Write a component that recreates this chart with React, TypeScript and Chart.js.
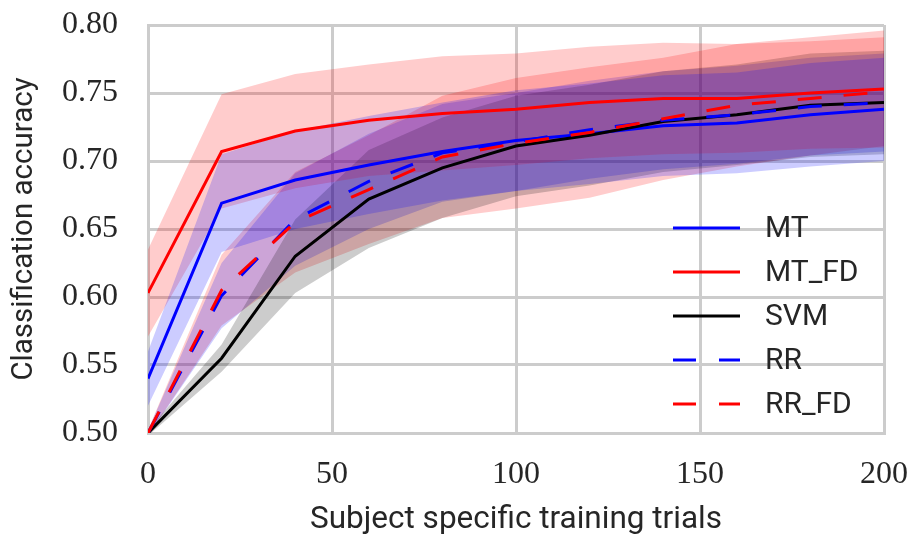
import React, { useEffect, useRef } from "react";
import { Chart, registerables } from "chart.js";

Chart.register(...registerables);

// ---- Data ----
const TRIALS = [0, 20, 40, 60, 80, 100, 120, 140, 160, 180, 200];

const MT_MEAN = [0.540, 0.669, 0.686, 0.697, 0.707, 0.715, 0.720, 0.726, 0.728, 0.734, 0.738];
const MT_STD = [0.020, 0.036, 0.036, 0.036, 0.036, 0.037, 0.037, 0.037, 0.037, 0.038, 0.038];

const MT_FD_MEAN = [0.603, 0.707, 0.722, 0.730, 0.735, 0.738, 0.743, 0.746, 0.746, 0.750, 0.753];
const MT_FD_STD = [0.032, 0.042, 0.042, 0.041, 0.042, 0.041, 0.041, 0.041, 0.040, 0.041, 0.043];

const SVM_MEAN = [0.500, 0.555, 0.630, 0.672, 0.695, 0.711, 0.719, 0.729, 0.734, 0.741, 0.743];
const SVM_STD = [0.002, 0.010, 0.027, 0.036, 0.037, 0.037, 0.037, 0.037, 0.037, 0.038, 0.038];

const RR_MEAN = [0.500, 0.601, 0.657, 0.685, 0.706, 0.714, 0.723, 0.730, 0.734, 0.740, 0.743];
const RR_STD = [0.002, 0.024, 0.034, 0.035, 0.036, 0.036, 0.036, 0.036, 0.036, 0.036, 0.036];

const RR_FD_MEAN = [0.500, 0.605, 0.655, 0.679, 0.703, 0.713, 0.721, 0.731, 0.741, 0.746, 0.751];
const RR_FD_STD = [0.002, 0.026, 0.037, 0.040, 0.045, 0.048, 0.048, 0.045, 0.045, 0.042, 0.040];

const LABELS = ["MT", "MT_FD", "SVM", "RR", "RR_FD"];
const X_TICKS = [0, 50, 100, 150, 200];
const Y_TICKS = [0.5, 0.55, 0.6, 0.65, 0.7, 0.75, 0.8];
const X_TITLE = "Subject specific training trials";
const Y_TITLE = "Classification accuracy";

// ---- Styles ----
const SERIES = [
  { label: LABELS[0], mean: MT_MEAN, std: MT_STD, color: "#0000ff", band: "rgba(0,0,255,0.2)", dash: false },
  { label: LABELS[1], mean: MT_FD_MEAN, std: MT_FD_STD, color: "#ff0000", band: "rgba(255,0,0,0.2)", dash: false },
  { label: LABELS[2], mean: SVM_MEAN, std: SVM_STD, color: "#000000", band: "rgba(0,0,0,0.2)", dash: false },
  { label: LABELS[3], mean: RR_MEAN, std: RR_STD, color: "#0000ff", band: "rgba(0,0,255,0.2)", dash: true },
  { label: LABELS[4], mean: RR_FD_MEAN, std: RR_FD_STD, color: "#ff0000", band: "rgba(255,0,0,0.2)", dash: true },
];

const GRID = "#cccccc";
const TEXT = "#262626";
const SERIF = "'Liberation Serif', 'DejaVu Serif', serif";
const SANS = "Roboto, 'DejaVu Sans', sans-serif";

const legendPlugin = {
  id: "customLegend",
  afterDatasetsDraw(chart: any) {
    const { ctx, chartArea } = chart;
    ctx.save();
    const n = SERIES.length;
    SERIES.forEach((s, i) => {
      const y = chartArea.bottom - 29 - 44 * (n - 1 - i);
      const x0 = chartArea.right - 211;
      ctx.strokeStyle = s.color;
      ctx.lineWidth = 3;
      ctx.lineCap = "butt";
      ctx.setLineDash(s.dash ? [23, 23] : []);
      ctx.beginPath();
      ctx.moveTo(x0, y);
      ctx.lineTo(x0 + 67, y);
      ctx.stroke();
      ctx.setLineDash([]);
      ctx.fillStyle = TEXT;
      ctx.font = `30px ${SANS}`;
      ctx.textBaseline = "middle";
      ctx.textAlign = "left";
      ctx.fillText(s.label, chartArea.right - 119, y + 1);
    });
    ctx.restore();
  },
};

export default function App() {
  const canvasRef = useRef<HTMLCanvasElement | null>(null);

  useEffect(() => {
    const canvas = canvasRef.current;
    if (!canvas) return;

    const datasets: any[] = [];
    SERIES.forEach((s, i) => {
      datasets.push({
        label: s.label + " upper",
        data: TRIALS.map((x, j) => ({ x, y: s.mean[j] + s.std[j] })),
        borderWidth: 0,
        borderColor: "rgba(0,0,0,0)",
        pointRadius: 0,
        fill: false,
        tension: 0,
        order: 100 + i * 2,
      });
      datasets.push({
        label: s.label + " lower",
        data: TRIALS.map((x, j) => ({ x, y: s.mean[j] - s.std[j] })),
        borderWidth: 0,
        borderColor: "rgba(0,0,0,0)",
        pointRadius: 0,
        fill: "-1",
        backgroundColor: s.band,
        tension: 0,
        order: 100 + i * 2,
      });
    });
    SERIES.forEach((s, i) => {
      datasets.push({
        label: s.label,
        data: TRIALS.map((x, j) => ({ x, y: s.mean[j] })),
        borderColor: s.color,
        borderWidth: 3,
        borderDash: s.dash ? [24, 22] : [],
        pointRadius: 0,
        fill: false,
        tension: 0,
        order: SERIES.length - i,
      });
    });

    const chart = new Chart(canvas, {
      type: "line",
      data: { datasets },
      plugins: [legendPlugin],
      options: {
        animation: false,
        responsive: true,
        maintainAspectRatio: false,
        layout: { padding: { top: 25, right: 28, left: 0, bottom: 0 } },
        plugins: {
          legend: { display: false },
          tooltip: { enabled: false },
          filler: { drawTime: "beforeDatasetsDraw" },
        },
        scales: {
          x: {
            type: "linear",
            min: 0,
            max: 200,
            afterBuildTicks: (scale: any) => {
              scale.ticks = X_TICKS.map((v) => ({ value: v }));
            },
            afterFit: (scale: any) => {
              scale.height = 105;
              scale.paddingLeft = 0;
              scale.paddingRight = 0;
              scale.paddingTop = 0;
              scale.paddingBottom = 0;
            },
            grid: { color: GRID, lineWidth: 3, drawTicks: false },
            border: { display: true, color: GRID, width: 3 },
            ticks: {
              color: TEXT,
              font: { family: SERIF, size: 32 },
              padding: 22,
              maxRotation: 0,
              callback: (v: any) => String(v),
            },
            title: {
              display: true,
              text: X_TITLE,
              color: TEXT,
              font: { family: SANS, size: 31.5 },
              padding: { top: 0, bottom: -1 },
            },
          },
          y: {
            type: "linear",
            min: 0.5,
            max: 0.8,
            afterBuildTicks: (scale: any) => {
              scale.ticks = Y_TICKS.map((v) => ({ value: v }));
            },
            afterFit: (scale: any) => {
              scale.width = 148;
              scale.paddingLeft = 0;
              scale.paddingRight = 0;
              scale.paddingTop = 0;
              scale.paddingBottom = 0;
            },
            grid: { color: GRID, lineWidth: 3, drawTicks: false },
            border: { display: true, color: GRID, width: 3 },
            ticks: {
              color: TEXT,
              font: { family: SERIF, size: 32 },
              padding: 30,
              callback: (v: any) => Number(v).toFixed(2),
            },
            title: {
              display: true,
              text: Y_TITLE,
              color: TEXT,
              font: { family: SANS, size: 29.5 },
              padding: { top: 7, bottom: 0 },
            },
          },
        },
      } as any,
    });

    return () => chart.destroy();
  }, []);

  return (
    <div style={{ position: "fixed", left: 0, top: 0, width: 912, height: 538, background: "#fff" }}>
      <canvas ref={canvasRef} />
    </div>
  );
}
